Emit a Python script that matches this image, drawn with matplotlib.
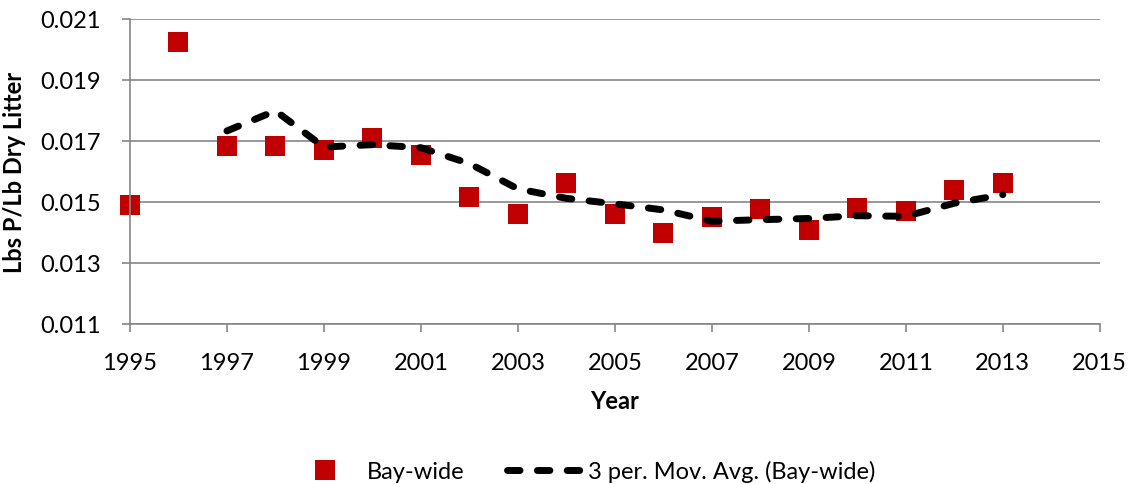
import matplotlib
matplotlib.use('Agg')
import matplotlib.pyplot as plt
from matplotlib.lines import Line2D

plt.rcParams['font.family'] = ['Lato', 'DejaVu Sans']

years = [1995, 1996, 1997, 1998, 1999, 2000, 2001, 2002, 2003, 2004,
         2005, 2006, 2007, 2008, 2009, 2010, 2011, 2012, 2013]
bay_wide = [0.01489, 0.02026, 0.01685, 0.01685, 0.01670, 0.01709, 0.01654,
            0.01515, 0.01459, 0.01562, 0.01462, 0.01398, 0.01451, 0.01478,
            0.01408, 0.01479, 0.01471, 0.01538, 0.01562]

# 3 period moving average, starts at 1997
ma_years = years[2:]
ma_values = [0.01733, 0.01799, 0.01680, 0.01688, 0.01678, 0.01626, 0.01543,
             0.01512, 0.01494, 0.01474, 0.01437, 0.01442, 0.01446, 0.01455,
             0.01453, 0.01496, 0.01524]

x_ticks = list(range(1995, 2016, 2))
y_ticks = [0.011, 0.013, 0.015, 0.017, 0.019, 0.021]

grey = '#868686'
red = '#C00000'
fs = 17

fig = plt.figure(figsize=(11.28, 4.85), dpi=100)
ax = fig.add_axes([0.1152, 0.3299, 0.8598, 0.6289])

dash = (0, (1.8, 2.5))
ax.plot(ma_years, ma_values, color='black', lw=5, linestyle=dash,
        dash_capstyle='round', solid_capstyle='round', zorder=3)
ax.plot(years, bay_wide, linestyle='none', marker='s', markersize=15,
        color=red, markeredgewidth=0, zorder=2, clip_on=False)

ax.set_xlim(1995, 2015)
ax.set_ylim(0.011, 0.021)
ax.set_xticks(x_ticks)
ax.set_yticks(y_ticks)
ax.set_yticklabels(['%.3f' % v for v in y_ticks])
ax.tick_params(axis='both', labelsize=fs, color=grey, length=6, width=1.2,
               direction='out')
ax.tick_params(axis='x', pad=14)
ax.tick_params(axis='y', pad=15)

ax.grid(axis='y', color=grey, lw=1.2)
ax.set_axisbelow(True)
for side in ['top', 'right']:
    ax.spines[side].set_visible(False)
for side in ['left', 'bottom']:
    ax.spines[side].set_color(grey)
    ax.spines[side].set_linewidth(1.2)

ax.set_xlabel('Year', fontsize=fs, fontweight='bold', labelpad=12)
ax.set_ylabel('Lbs P/Lb Dry Litter', fontsize=fs, fontweight='bold', labelpad=10)

handles = [
    Line2D([], [], linestyle='none', marker='s', markersize=15, color=red,
           markeredgewidth=0),
    Line2D([], [], color='black', lw=5, linestyle=dash, dash_capstyle='round'),
]
fig.legend(handles, ['Bay-wide', '3 per. Mov. Avg. (Bay-wide)'],
           loc='center', bbox_to_anchor=(0.515, 0.027), ncol=2, frameon=False,
           fontsize=fs, handlelength=3.2, columnspacing=1.8, handletextpad=0.2)

fig.savefig('out.png', dpi=100)
